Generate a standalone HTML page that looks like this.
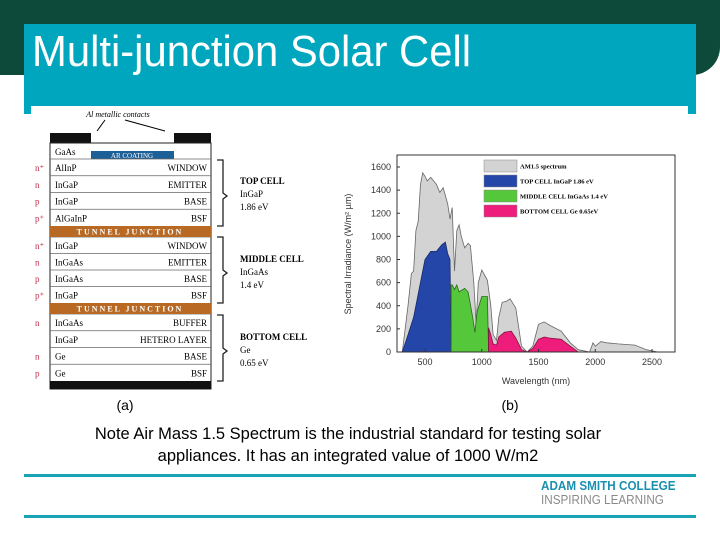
<!DOCTYPE html>
<html><head><meta charset="utf-8">
<style>
body{margin:0;width:720px;height:540px;overflow:hidden;background:#fff;font-family:"Liberation Sans",sans-serif;position:relative}
.abs{position:absolute}
</style></head>
<body>
<div class="abs" style="left:0;top:0;width:720px;height:75px;background:#0e4a3a;border-bottom-right-radius:28px"></div>
<div class="abs" style="left:24px;top:24px;width:672px;height:90px;background:#00a6bd"></div>
<div class="abs" style="left:32px;top:27px;font-size:44px;color:#fff;white-space:nowrap;transform:scaleX(0.95);transform-origin:0 0">Multi-junction Solar Cell</div>
<div class="abs" style="left:31px;top:106px;width:657px;height:300px;background:#fff"></div>

<svg class="abs" style="left:0;top:0" width="720" height="540" font-family="Liberation Serif, serif">
 <g>
  <text x="118" y="117" font-size="8" font-style="italic" text-anchor="middle">Al metallic contacts</text>
  <line x1="105" y1="120" x2="97" y2="131" stroke="#000" stroke-width="1"/>
  <line x1="125" y1="120" x2="165" y2="131" stroke="#000" stroke-width="1"/>
  <rect x="50" y="133" width="41" height="10" fill="#111"/>
  <rect x="174" y="133" width="37" height="10" fill="#111"/>
  <rect x="50" y="143" width="161" height="246" fill="#fff" stroke="#222" stroke-width="1"/>
  <rect x="91" y="151" width="83" height="8" fill="#1d5f97"/>
  <text x="132" y="158" font-size="7" fill="#fff" text-anchor="middle">AR COATING</text>
  <text x="55" y="155" font-size="9">GaAs</text>
  <g id="rows"></g>
  <rect x="50" y="226" width="161" height="11" fill="#b86a24"/>
  <text x="130" y="234.5" font-size="8" fill="#fff" font-weight="bold" letter-spacing="2" text-anchor="middle">TUNNEL JUNCTION</text>
  <rect x="50" y="303" width="161" height="11" fill="#b86a24"/>
  <text x="130" y="311.5" font-size="8" fill="#fff" font-weight="bold" letter-spacing="2" text-anchor="middle">TUNNEL JUNCTION</text>
  <rect x="50" y="381" width="161" height="8" fill="#111"/>
  <path d="M217 160 h6 v33 l4 3 l-4 3 v27 h-6" fill="none" stroke="#222" stroke-width="1.3"/>
  <path d="M217 237 h6 v33 l4 3 l-4 3 v27 h-6" fill="none" stroke="#222" stroke-width="1.3"/>
  <path d="M217 315 h6 v33 l4 3 l-4 3 v27 h-6" fill="none" stroke="#222" stroke-width="1.3"/>
  <g font-size="9">
   <text x="240" y="184" font-weight="bold">TOP CELL</text><text x="240" y="197">InGaP</text><text x="240" y="210">1.86 eV</text>
   <text x="240" y="262" font-weight="bold">MIDDLE CELL</text><text x="240" y="275">InGaAs</text><text x="240" y="288">1.4 eV</text>
   <text x="240" y="340" font-weight="bold">BOTTOM CELL</text><text x="240" y="353">Ge</text><text x="240" y="366">0.65 eV</text>
  </g>
  <text x="125" y="410" font-size="14" font-family="Liberation Sans, sans-serif" text-anchor="middle">(a)</text>
 </g>
 <g font-family="Liberation Sans, sans-serif">
  <g id="marks"></g>
  <rect x="397" y="155" width="278" height="197" fill="none" stroke="#333" stroke-width="1"/>
  <g id="axes" font-size="9" fill="#333"></g>
  <text x="536" y="384" font-size="9" fill="#333" text-anchor="middle">Wavelength (nm)</text>
  <text transform="translate(351,254) rotate(-90)" font-size="9" fill="#333" text-anchor="middle">Spectral Irradiance (W/m² µm)</text>
  <g id="legend" font-family="Liberation Serif, serif" font-size="6.5" font-weight="bold"></g>
  <text x="510" y="410" font-size="14" text-anchor="middle">(b)</text>
 </g>
</svg>

<div class="abs" style="left:30px;top:423px;width:636px;text-align:center;font-size:16.5px;line-height:22px;color:#000">Note Air Mass 1.5 Spectrum is the industrial standard for testing solar<br>appliances. It has an integrated value of 1000 W/m2</div>
<div class="abs" style="left:24px;top:474px;width:672px;height:3px;background:#1aa3b5"></div>
<div class="abs" style="left:24px;top:515px;width:672px;height:3px;background:#1aa3b5"></div>
<div class="abs" style="left:541px;top:479px;font-size:13px;line-height:14px;transform:scaleX(0.9);transform-origin:0 0;white-space:nowrap">
 <div style="color:#1a8fb0;font-weight:bold">ADAM SMITH COLLEGE</div>
 <div style="color:#8a8a8a">INSPIRING LEARNING</div>
</div>

<script>
const rowLayers=[["AlInP","WINDOW","n+"],["InGaP","EMITTER","n"],["InGaP","BASE","p"],["AlGaInP","BSF","p+"],
["InGaP","WINDOW","n+"],["InGaAs","EMITTER","n"],["InGaAs","BASE","p"],["InGaP","BSF","p+"],
["InGaAs","BUFFER","n"],["InGaP","HETERO LAYER",""],["Ge","BASE","n"],["Ge","BSF","p"]];
const NS="http://www.w3.org/2000/svg";
function mk(tag,attrs,parent,txt){const e=document.createElementNS(NS,tag);for(const k in attrs)e.setAttribute(k,attrs[k]);if(txt!==undefined)e.textContent=txt;parent.appendChild(e);return e;}
const rows=document.getElementById('rows');
rowLayers.forEach((r,i)=>{
 const y0=159+(i<4?i*16.75:i<8?78+(i-4)*16.5:155+(i-8)*16.75);
 mk('line',{x1:50,x2:211,y1:y0,y2:y0,stroke:'#666','stroke-width':0.7},rows);
 const t1=mk('text',{x:55,y:y0+12,'font-size':9},rows,r[0]);
 
 
 const t2=mk('text',{x:207,y:y0+12,'font-size':9,'text-anchor':'end'},rows,r[1]);
 
 
 if(r[2]){const t3=mk('text',{x:35,y:y0+12,'font-size':9,fill:'#c0304a'},rows,r[2].replace('+','⁺'));
 
 }
});

const amWl=[300,350,380,400,420,440,460,480,500,520,550,600,630,660,700,720,740,760,780,800,820,850,880,900,930,950,970,1000,1050,1080,1100,1130,1150,1180,1220,1250,1300,1350,1400,1450,1500,1550,1600,1700,1780,1850,1950,1980,2000,2050,2100,2200,2350,2450,2550];
const amVal=[0,400,680,700,1050,1130,1450,1550,1520,1480,1510,1450,1380,1420,1280,1150,1250,700,1050,1100,1000,900,940,920,600,250,600,710,620,400,150,100,300,430,440,460,380,50,0,50,240,260,230,180,80,20,0,80,50,90,80,70,60,20,0];
const topWl=[300,350,400,450,480,500,550,600,650,680,700,720,730];
const topVal=[0,150,300,550,700,800,870,870,930,950,850,800,0];
const midWl=[730,740,760,780,800,850,880,920,940,960,1000,1050,1060];
const midVal=[580,580,540,580,520,550,520,300,170,350,480,480,0];
const botWl=[1060,1080,1100,1130,1150,1200,1260,1300,1350,1400,1450,1500,1550,1600,1700,1780,1850];
const botVal=[210,150,70,60,130,170,180,120,20,0,30,110,130,120,110,50,0];
const xTicks=[500,1000,1500,2000,2500];
const yTicks=[0,200,400,600,800,1000,1200,1400,1600];
const legendLabels=["AM1.5 spectrum","TOP CELL InGaP 1.86 eV","MIDDLE CELL InGaAs 1.4 eV","BOTTOM CELL Ge 0.65eV"];
const xs=w=>425+(w-500)*0.1135;
const ys=v=>352-v*(185/1600);
const marks=document.getElementById('marks');
function area(wl,val,fill,stroke,name){
 let d='M'+xs(wl[0])+' '+ys(0);
 wl.forEach((w,i)=>d+=' L'+xs(w).toFixed(1)+' '+ys(val[i]).toFixed(1));
 d+=' L'+xs(wl[wl.length-1])+' '+ys(0)+' Z';
 const p=mk('path',{d:d,fill:fill,stroke:stroke,'stroke-width':0.8},marks);
 
 
}
area(amWl,amVal,'#d3d3d3','#666','am15-area');
area(topWl,topVal,'#2446a8','#1a2a6a','top-cell-area');
area(midWl,midVal,'#55c73a','#2a6a1a','middle-cell-area');
area(botWl,botVal,'#ee1c7a','#8a1040','bottom-cell-area');
const axes=document.getElementById('axes');
xTicks.forEach(t=>{mk('line',{x1:xs(t),x2:xs(t),y1:352,y2:349,stroke:'#333'},axes);
 const e=mk('text',{x:xs(t),y:365,'text-anchor':'middle'},axes,t);
 
 });
yTicks.forEach(t=>{mk('line',{x1:397,x2:400,y1:ys(t),y2:ys(t),stroke:'#333'},axes);
 const e=mk('text',{x:391,y:ys(t)+3,'text-anchor':'end'},axes,t);
 
 });
const lg=document.getElementById('legend');
const lgColors=['#d3d3d3','#2446a8','#55c73a','#ee1c7a'];
legendLabels.forEach((l,i)=>{const y=160+i*15;
 mk('rect',{x:484,y:y,width:33,height:12,fill:lgColors[i],stroke:'#888','stroke-width':0.5},lg);
 const e=mk('text',{x:520,y:y+8.5},lg,l);
 
 });
</script>
</body></html>
